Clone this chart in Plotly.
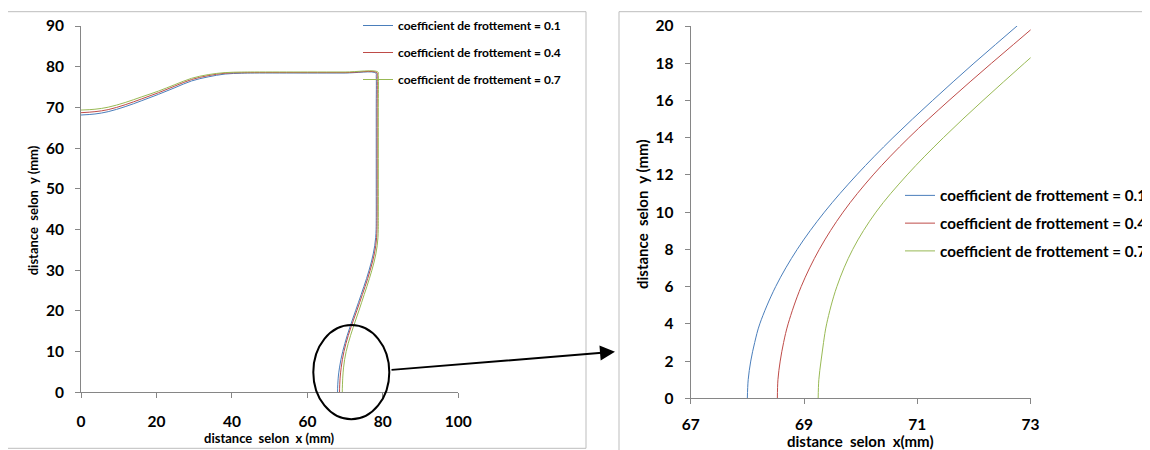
import plotly.graph_objects as go

# ---------------- data ----------------
series_names = [
    "coefficient de frottement = 0.1",
    "coefficient de frottement = 0.4",
    "coefficient de frottement = 0.7",
]

# shared y-levels along the wall (bottom -> top), then x-levels along the top (right -> left)
y_wall = [0, 1, 2, 3, 4, 6, 8, 10, 12, 14, 16, 18, 20, 22, 24, 26, 28, 30, 32, 34, 36, 38,
          40, 43, 50, 60, 70]
x_top = [70.0, 60.0, 46.0, 42.6, 38.2, 33.7, 29.3, 24.9, 20.5, 16.1, 11.7, 7.2, 3.7, 0.0]

# friction 0.1
x_wall_f01 = [68.00, 68.015, 68.06, 68.13, 68.22, 68.50, 68.88, 69.36, 69.93, 70.57, 71.27,
              72.00, 72.76, 73.51, 74.25, 74.98, 75.70, 76.35, 76.95, 77.45, 77.85, 78.10,
              78.22, 78.25, 78.25, 78.25, 78.25]
corner_f01 = [(78.25, 77.6), (78.15, 78.45)]
y_top_f01 = [78.45, 78.45, 78.45, 78.40, 78.20, 77.50, 76.50, 74.85, 73.20, 71.65, 70.18,
             68.95, 68.38, 68.13]

# friction 0.4
x_wall_f04 = [68.53, 68.54, 68.58, 68.64, 68.72, 68.95, 69.27, 69.69, 70.22, 70.85, 71.56,
              72.31, 73.08, 73.83, 74.57, 75.30, 76.00, 76.65, 77.25, 77.75, 78.12, 78.35,
              78.45, 78.48, 78.50, 78.50, 78.50]
corner_f04 = [(78.50, 77.7), (78.42, 78.55)]
y_top_f04 = [78.55, 78.55, 78.55, 78.52, 78.40, 77.80, 76.85, 75.25, 73.60, 72.10, 70.65,
             69.45, 68.95, 68.70]

# friction 0.7
x_wall_f07 = [69.25, 69.262, 69.30, 69.345, 69.40, 69.58, 69.86, 70.27, 70.82, 71.46, 72.16,
              72.89, 73.63, 74.35, 75.06, 75.77, 76.45, 77.10, 77.68, 78.15, 78.50, 78.70,
              78.78, 78.80, 78.80, 78.80, 78.80]
corner_f07 = [(78.80, 77.8), (78.70, 78.70)]
y_top_f07 = [78.70, 78.70, 78.70, 78.68, 78.55, 78.05, 77.15, 75.60, 74.00, 72.60, 71.20,
             70.05, 69.55, 69.35]

left_xticks = [0, 20, 40, 60, 80, 100]
left_yticks = [0, 10, 20, 30, 40, 50, 60, 70, 80, 90]
right_xticks = [67, 69, 71, 73]
right_yticks = [0, 2, 4, 6, 8, 10, 12, 14, 16, 18, 20]

colors = ["#4A7EBB", "#BE4B48", "#98B954"]


def build_path(x_wall, corner, y_top):
    xs = list(x_wall) + [c[0] for c in corner] + list(x_top)
    ys = list(y_wall) + [c[1] for c in corner] + list(y_top)
    return xs, ys


paths = [build_path(x_wall_f01, corner_f01, y_top_f01),
         build_path(x_wall_f04, corner_f04, y_top_f04),
         build_path(x_wall_f07, corner_f07, y_top_f07)]

# ---------------- figure ----------------
# the page body has an 8px margin, so the figure is 8px smaller and
# reference pixel positions are shifted by 8px
OFF = 8
W, H = 1150 - OFF, 450 - OFF
FONT = "Lato"


def px(v):
    return (v - OFF) / W


def py(v):
    return 1 - (v - OFF) / H


fig = go.Figure()
for i in range(3):
    fig.add_trace(go.Scatter(
        x=paths[i][0], y=paths[i][1], mode="lines", name=series_names[i],
        line=dict(color=colors[i], width=1, shape="spline", smoothing=1.0),
        xaxis="x", yaxis="y", legend="legend", legendgroup="L%d" % i,
        hoverinfo="skip"))
for i in range(3):
    fig.add_trace(go.Scatter(
        x=paths[i][0], y=paths[i][1], mode="lines", name=series_names[i],
        line=dict(color=colors[i], width=1, shape="spline", smoothing=1.0),
        xaxis="x2", yaxis="y2", legend="legend2", legendgroup="R%d" % i,
        hoverinfo="skip"))

axis_common = dict(
    showline=True, linecolor="#868686", linewidth=1,
    ticks="outside", ticklen=5, tickcolor="#868686", tickwidth=1,
    showgrid=False, zeroline=False, fixedrange=True, automargin=False,
    tickfont=dict(family=FONT, size=15.5, color="black", weight="bold"),
)

fig.update_layout(
    width=W, height=H,
    margin=dict(l=0, r=0, t=0, b=0, autoexpand=False),
    paper_bgcolor="white", plot_bgcolor="white",
    showlegend=True,
    xaxis=dict(domain=[px(81), px(458.3)], range=[0, 100], tickvals=left_xticks,
               anchor="y", ticklabelstandoff=10, **axis_common),
    yaxis=dict(domain=[py(392.3), py(26)], range=[0, 90], tickvals=left_yticks,
               anchor="x", ticklabelstandoff=8, **axis_common),
    xaxis2=dict(domain=[px(690.7), px(1030.6)], range=[67, 73], tickvals=right_xticks,
                anchor="y2", ticklabelstandoff=7, **axis_common),
    yaxis2=dict(domain=[py(398.3), py(26)], range=[0, 20], tickvals=right_yticks,
                anchor="x2", ticklabelstandoff=8, **axis_common),
    legend=dict(x=px(358), y=py(11), xanchor="left", yanchor="top",
                bgcolor="rgba(0,0,0,0)", borderwidth=0,
                font=dict(family=FONT, size=12, color="black", weight="bold"),
                tracegroupgap=8, itemwidth=30),
    legend2=dict(x=px(900), y=py(179), xanchor="left", yanchor="top",
                 bgcolor="rgba(0,0,0,0)", borderwidth=0,
                 font=dict(family=FONT, size=15.2, color="black", weight="bold"),
                 tracegroupgap=5, itemwidth=30),
)

title_font = dict(family=FONT, size=13, color="black", weight="bold")
title_font2 = dict(family=FONT, size=15, color="black", weight="bold")
NB = "\u00a0"
fig.add_annotation(text="distance" + NB + " selon" + NB + " y (mm)", x=px(33.3), y=py(210),
                   xref="paper", yref="paper", textangle=-90, showarrow=False,
                   xanchor="center", yanchor="middle", font=title_font)
fig.add_annotation(text="distance" + NB + " selon" + NB + " x (mm)", x=px(269.7), y=py(438.3),
                   xref="paper", yref="paper", showarrow=False,
                   xanchor="center", yanchor="middle", font=title_font)
fig.add_annotation(text="distance" + NB + " selon" + NB + " y (mm)", x=px(642), y=py(214),
                   xref="paper", yref="paper", textangle=-90, showarrow=False,
                   xanchor="center", yanchor="middle", font=title_font2)
fig.add_annotation(text="distance" + NB + " selon" + NB + " x(mm)", x=px(860.7), y=py(441),
                   xref="paper", yref="paper", showarrow=False,
                   xanchor="center", yanchor="middle", font=title_font2)

# chart-area frames
frame = dict(color="#BDBDBD", width=1)
fig.add_shape(type="rect", xref="paper", yref="paper",
              x0=px(6), x1=px(586), y0=py(448.3), y1=py(11.7), line=frame, layer="below")
fig.add_shape(type="line", xref="paper", yref="paper",
              x0=px(619), x1=px(619), y0=py(450), y1=py(11.7), line=frame)
fig.add_shape(type="line", xref="paper", yref="paper",
              x0=px(619), x1=px(1150), y0=py(11.7), y1=py(11.7), line=frame)

# zoom ellipse and arrow
fig.add_shape(type="circle", xref="paper", yref="paper",
              x0=px(313.3), x1=px(389.3), y0=py(419.3), y1=py(325),
              line=dict(color="black", width=2))
fig.add_annotation(text="", x=px(615), y=py(351.7), xref="paper", yref="paper",
                   showarrow=True, arrowhead=2, arrowsize=1.5, arrowwidth=2,
                   arrowcolor="black", ax=390 - 615, ay=370 - 351.7,
                   axref="pixel", ayref="pixel")

fig.write_html("out.html")
